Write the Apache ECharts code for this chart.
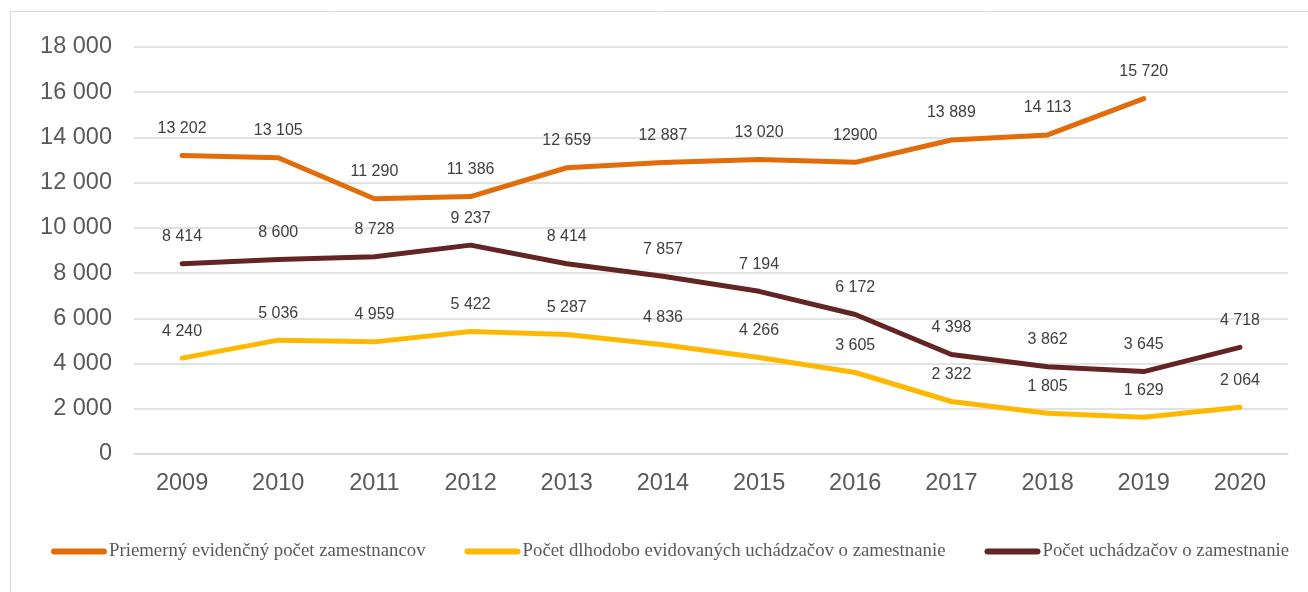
<!DOCTYPE html>
<html>
<head>
<meta charset="utf-8">
<script src="https://cdn.jsdelivr.net/npm/echarts@6/dist/echarts.min.js"></script>
<style>
  html, body { margin: 0; padding: 0; background: #ffffff; }
  #chart { width: 1308px; height: 592px; }
</style>
</head>
<body>
<div id="chart"></div>
<script>
  // data
  const years = ['2009','2010','2011','2012','2013','2014','2015','2016','2017','2018','2019','2020']
  const zamestnanci = [13202,13105,11290,11386,12659,12887,13020,12900,13889,14113,15720]
  const dlhodobi = [4240,5036,4959,5422,5287,4836,4266,3605,2322,1805,1629,2064]
  const uchadzaci = [8414,8600,8728,9237,8414,7857,7194,6172,4398,3862,3645,4718]
  const yTicks = [0,2000,4000,6000,8000,10000,12000,14000,16000,18000]
  // in the source this one label is printed without the space
  const rawLabelYears = ['2016']

  const names = [
    'Priemerný evidenčný počet zamestnancov',
    'Počet dlhodobo evidovaných uchádzačov o zamestnanie',
    'Počet uchádzačov o zamestnanie'
  ]
  const colors = ['#e36c0a','#ffb800','#632523']

  function fmt(v){
    return String(v).replace(/\B(?=(\d{3})+(?!\d))/g,' ')
  }

  const pill = 'path://M3,0 L53,0 A3,3 0 0 1 53,6 L3,6 A3,3 0 0 1 3,0 Z'

  function lineSeries(i, data, raw){
    return {
      name: names[i],
      type: 'line',
      data: data,
      symbol: 'circle',
      symbolSize: 0,
      showSymbol: true,
      color: colors[i],
      lineStyle: { width: 5, color: colors[i], cap: 'round', join: 'round' },
      label: {
        show: true,
        position: 'top',
        distance: 19,
        color: '#404040',
        fontFamily: 'Liberation Sans, Arial, sans-serif',
        fontSize: 16,
        formatter: p => (raw && rawLabelYears.includes(p.name)) ? String(p.value) : fmt(p.value)
      },
      emphasis: { disabled: true },
      animation: false
    }
  }

  const mychart = echarts.init(document.getElementById('chart'))
  mychart.setOption({
    animation: false,
    graphic: [{
      type: 'rect',
      shape: { x: 10.5, y: 11.5, width: 1320, height: 600 },
      style: { fill: 'none', stroke: '#d9d9d9', lineWidth: 1 },
      silent: true
    }],
    grid: { left: 134, right: 20, top: 47, bottom: 138 },
    legend: {
      data: names,
      left: 46,
      bottom: 26,
      icon: pill,
      itemWidth: 56,
      itemHeight: 6,
      itemGap: 39,
      textStyle: {
        color: '#595959',
        fontFamily: 'Liberation Serif, Times New Roman, serif',
        fontSize: 18.8,
        padding: [0, 0, 0, -3]
      }
    },
    xAxis: {
      type: 'category',
      data: years,
      boundaryGap: true,
      axisLine: { lineStyle: { color: '#d9d9d9', width: 1.5 } },
      axisTick: { show: false },
      axisLabel: {
        color: '#595959',
        fontFamily: 'Liberation Sans, Arial, sans-serif',
        fontSize: 23.5,
        margin: 18
      }
    },
    yAxis: {
      type: 'value',
      min: yTicks[0],
      max: yTicks[yTicks.length-1],
      interval: yTicks[1]-yTicks[0],
      axisLine: { show: false },
      axisTick: { show: false },
      splitLine: { lineStyle: { color: '#d9d9d9', width: 1.5 } },
      axisLabel: {
        color: '#595959',
        fontFamily: 'Liberation Sans, Arial, sans-serif',
        fontSize: 23.5,
        margin: 22,
        formatter: v => fmt(v)
      }
    },
    series: [
      lineSeries(0, zamestnanci, true),
      lineSeries(1, dlhodobi, false),
      lineSeries(2, uchadzaci, false)
    ]
  })
</script>
</body>
</html>
